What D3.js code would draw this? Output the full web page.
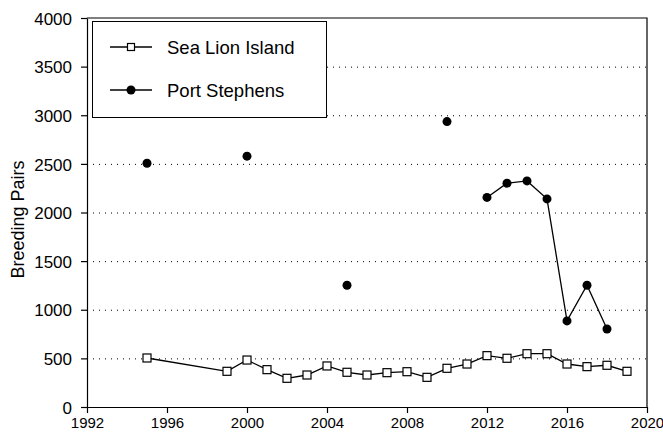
<!DOCTYPE html>
<html>
<head>
<meta charset="utf-8">
<script src="https://cdn.jsdelivr.net/npm/d3@7"></script>
<style>
  html, body { margin: 0; padding: 0; background: #fff; }
  svg { display: block; font-family: "Liberation Sans", Arial, sans-serif; }
</style>
</head>
<body>
<svg id="chart" width="663" height="436"></svg>
<script>
// Breeding pairs per year
const seaLionYears  = [1995, 1999, 2000, 2001, 2002, 2003, 2004, 2005, 2006, 2007, 2008,
                       2009, 2010, 2011, 2012, 2013, 2014, 2015, 2016, 2017, 2018, 2019];
const seaLionValues = [504, 367, 483, 384, 295, 329, 422, 357, 329, 353, 363,
                       305, 398, 442, 528, 501, 548, 548, 442, 415, 429, 367];

const portYears  = [1995, 2000, 2005, 2010, 2012, 2013, 2014, 2015, 2016, 2017, 2018];
const portValues = [2506, 2579, 1252, 2935, 2155, 2301, 2325, 2140, 885, 1252, 802];

const xTicks = [1992, 1996, 2000, 2004, 2008, 2012, 2016, 2020];
const yTicks = [0, 500, 1000, 1500, 2000, 2500, 3000, 3500, 4000];
const gridValues = [500, 1000, 1500, 2000, 2500, 3000, 3500];

const seriesNames = ["Sea Lion Island", "Port Stephens"];

const svg = d3.select("#chart");
const margin = { left: 87, right: 16, top: 18, bottom: 29 };
const W = 663, H = 436;

const x = d3.scaleLinear().domain([1992, 2020]).range([margin.left, W - margin.right]);
const y = d3.scaleLinear().domain([0, 4000]).range([H - margin.bottom, margin.top]);

// dotted horizontal grid
svg.append("g").selectAll("line").data(gridValues).join("line")
  .attr("x1", x(1992)).attr("x2", x(2020))
  .attr("y1", d => y(d) + 0.5).attr("y2", d => y(d) + 0.5)
  .attr("stroke", "#000").attr("stroke-width", 1)
  .attr("stroke-dasharray", "1,5");

// frame (top and right)
svg.append("path")
  .attr("d", `M${x(1992)},${y(4000)}H${x(2020)}V${y(0)}`)
  .attr("fill", "none").attr("stroke", "#000").attr("stroke-width", 1.2);

// axes
const xAxis = svg.append("g")
  .attr("transform", `translate(0,${y(0)})`)
  .call(d3.axisBottom(x).tickValues(xTicks).tickFormat(d3.format("d")).tickSizeInner(6).tickSizeOuter(0).tickPadding(4));
const yAxis = svg.append("g")
  .attr("transform", `translate(${x(1992)},0)`)
  .call(d3.axisLeft(y).tickValues(yTicks).tickFormat(d3.format("d")).tickSizeInner(6).tickSizeOuter(0).tickPadding(9));

[xAxis, yAxis].forEach(g => {
  g.select(".domain").attr("stroke", "#000").attr("stroke-width", 1.2);
  g.selectAll(".tick line").attr("stroke", "#000").attr("stroke-width", 1.2);
  g.selectAll(".tick text").attr("fill", "#000")
    .style("font-family", '"Liberation Sans", Arial, sans-serif');
});
xAxis.selectAll(".tick text").style("font-size", "15px");
yAxis.selectAll(".tick text").style("font-size", "17px").attr("dy", "0.36em");

// y axis title
svg.append("text")
  .attr("transform", `translate(24,${(y(0) + y(4000)) / 2 + 7}) rotate(-90)`)
  .attr("text-anchor", "middle")
  .style("font-size", "18px")
  .text("Breeding Pairs");

// Port Stephens: connect only consecutive years
const portPts = portYears.map((yr, i) => ({ yr, v: portValues[i] }));
const segs = [];
portPts.forEach((p, i) => {
  if (i > 0 && p.yr - portPts[i - 1].yr === 1) segs[segs.length - 1].push(p);
  else segs.push([p]);
});
const line = d3.line().x(d => x(d.yr)).y(d => y(d.v));
svg.append("g").selectAll("path").data(segs.filter(s => s.length > 1)).join("path")
  .attr("d", line).attr("fill", "none").attr("stroke", "#000").attr("stroke-width", 1.3);
svg.append("g").selectAll("circle").data(portPts).join("circle")
  .attr("cx", d => x(d.yr)).attr("cy", d => y(d.v)).attr("r", 4.5).attr("fill", "#000");

// Sea Lion Island
const slPts = seaLionYears.map((yr, i) => ({ yr, v: seaLionValues[i] }));
svg.append("path").datum(slPts).attr("d", line)
  .attr("fill", "none").attr("stroke", "#000").attr("stroke-width", 1.3);
svg.append("g").selectAll("rect").data(slPts).join("rect")
  .attr("x", d => x(d.yr) - 4).attr("y", d => y(d.v) - 4)
  .attr("width", 8).attr("height", 8)
  .attr("fill", "#fff").attr("stroke", "#000").attr("stroke-width", 1.2);

// legend
const lg = svg.append("g");
lg.append("rect").attr("x", 92.5).attr("y", 21.5).attr("width", 234).attr("height", 96)
  .attr("fill", "#fff").attr("stroke", "#000").attr("stroke-width", 1);
seriesNames.forEach((name, i) => {
  const cy = 47 + i * 43;
  lg.append("line").attr("x1", 110).attr("x2", 152).attr("y1", cy).attr("y2", cy)
    .attr("stroke", "#000").attr("stroke-width", 1.3);
  if (i === 0) {
    lg.append("rect").attr("x", 127.5).attr("y", cy - 3.5).attr("width", 7).attr("height", 7)
      .attr("fill", "#fff").attr("stroke", "#000").attr("stroke-width", 1.2);
  } else {
    lg.append("circle").attr("cx", 131).attr("cy", cy).attr("r", 4.5).attr("fill", "#000");
  }
  lg.append("text").attr("x", 167).attr("y", cy).attr("dy", "0.36em")
    .style("font-size", "18.5px").text(name);
});
</script>
</body>
</html>
